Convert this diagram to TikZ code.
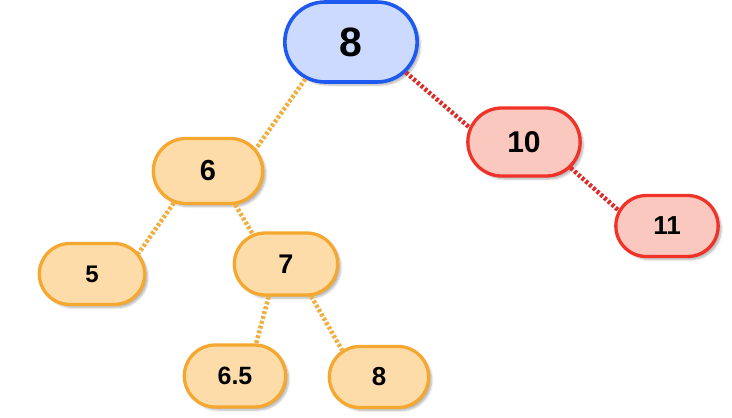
\documentclass[tikz,border=0pt]{standalone}
\usepackage{fontspec}
\setmainfont{Liberation Sans}
\usetikzlibrary{shapes.misc,shadows.blur}
\definecolor{bluefill}{RGB}{204,218,255}
\definecolor{bluedraw}{RGB}{30,90,240}
\definecolor{orfill}{RGB}{253,220,170}
\definecolor{ordraw}{RGB}{245,168,48}
\definecolor{orline}{RGB}{240,175,65}
\definecolor{redfill}{RGB}{250,200,190}
\definecolor{reddraw}{RGB}{240,50,40}
\definecolor{redline}{RGB}{220,45,45}
\begin{document}
\begin{tikzpicture}[x=1pt,y=-1pt,
  tn/.style={rounded rectangle, line width=3.3pt, text=black,
    font=\bfseries\fontsize{28}{28}\selectfont,
    blur shadow={shadow xshift=3pt, shadow yshift=-3pt, shadow blur steps=6, shadow opacity=30}},
  rootnode/.style={tn, fill=bluefill, draw=bluedraw, line width=3.6pt,
    minimum width=139pt, minimum height=80pt, font=\bfseries\fontsize{41}{41}\selectfont},
  ornode/.style={tn, fill=orfill, draw=ordraw},
  rednode/.style={tn, fill=redfill, draw=reddraw},
  orlink/.style={draw=orline, line width=4.5pt, dash pattern=on 3pt off 2pt},
  redlink/.style={draw=redline, line width=4.5pt, dash pattern=on 3pt off 2pt}]
\useasboundingbox (0,0) rectangle (732,418);

\node[rootnode] (r) at (351,42) {8};
\node[ornode, minimum width=116pt, minimum height=65pt, font=\bfseries\fontsize{29}{29}\selectfont] (n6) at (208,171) {6};
\node[rednode, minimum width=119pt, minimum height=68pt, font=\bfseries\fontsize{30}{30}\selectfont] (n10) at (524,142) {10};
\node[rednode, minimum width=109pt, minimum height=61pt, font=\bfseries\fontsize{26}{26}\selectfont] (n11) at (667,226) {11};
\node[ornode, minimum width=112pt, minimum height=61pt, font=\bfseries\fontsize{24}{24}\selectfont] (n5) at (92,274) {5};
\node[ornode, minimum width=110pt, minimum height=62pt, font=\bfseries\fontsize{27}{27}\selectfont] (n7) at (286,264) {7};
\node[ornode, minimum width=108pt, minimum height=62pt, font=\bfseries\fontsize{25}{25}\selectfont] (n65) at (235,376) {6.5};
\node[ornode, minimum width=106pt, minimum height=61pt, font=\bfseries\fontsize{26}{26}\selectfont] (n8) at (379,377) {8};

\draw[orlink] (r.219) -- (n6.25);
\draw[redlink] (r.331) -- (n10.165);
\draw[redlink] (n10.331) -- (n11.162);
\draw[orlink] (n6.223) -- (n5.24);
\draw[orlink] (n6.309) -- (n7.138);
\draw[orlink] (n7.242) -- (n65.57);
\draw[orlink] (n7.308) -- (n8.144);
\end{tikzpicture}
\end{document}
